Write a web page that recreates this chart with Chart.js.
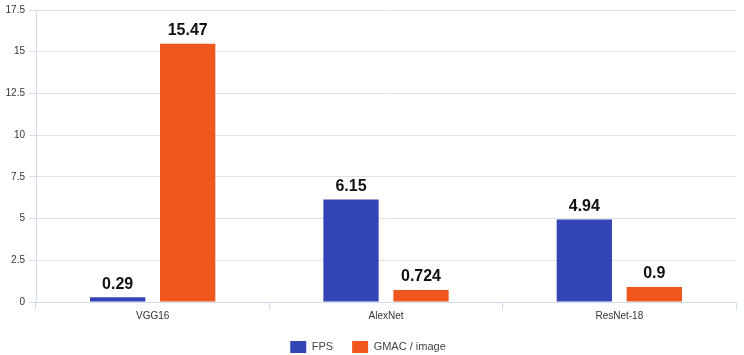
<!DOCTYPE html>
<html>
<head>
<meta charset="utf-8">
<script src="https://cdn.jsdelivr.net/npm/chart.js@4/dist/chart.umd.min.js"></script>
<style>
  html, body { margin: 0; padding: 0; background: #fff; }
  #wrap { width: 744px; height: 355px; }
</style>
</head>
<body>
<div id="wrap"><canvas id="grafico"></canvas></div>
<script>
'use strict';

const categorie = ['VGG16', 'AlexNet', 'ResNet-18'];
const fps = [0.29, 6.15, 4.94];
const gmac = [15.47, 0.724, 0.9];
const yTicks = [0, 2.5, 5, 7.5, 10, 12.5, 15, 17.5];

// etichette sopra le barre
const valoriPlugin = {
  id: 'valori',
  afterDatasetsDraw(chart) {
    const ctx = chart.ctx;
    ctx.save();
    ctx.font = 'bold 16px "Liberation Sans", Arial, sans-serif';
    ctx.fillStyle = '#111';
    ctx.textAlign = 'center';
    ctx.textBaseline = 'bottom';
    chart.data.datasets.forEach((ds, i) => {
      chart.getDatasetMeta(i).data.forEach((bar, j) => {
        ctx.fillText(String(ds.data[j]), bar.x, bar.y - 5);
      });
    });
    ctx.restore();
  }
};

new Chart(document.getElementById('grafico').getContext('2d'), {
  type: 'bar',
  data: {
    labels: categorie,
    datasets: [
      { label: 'FPS', data: fps, backgroundColor: '#3345b6' },
      { label: 'GMAC / image', data: gmac, backgroundColor: '#ee561d' }
    ]
  },
  options: {
    responsive: true,
    maintainAspectRatio: false,
    animation: false,
    categoryPercentage: 0.6,
    barPercentage: 0.79,
    layout: { padding: { top: 7, right: 8, left: 0, bottom: -8 } },
    plugins: {
      legend: {
        position: 'bottom',
        labels: {
          color: '#444',
          boxWidth: 16, boxHeight: 12,
          padding: 19,
          font: { family: '"Liberation Sans", Arial, sans-serif', size: 11 }
        }
      },
      tooltip: { enabled: false }
    },
    scales: {
      x: {
        afterFit: s => { s.height = 20; },
        grid: { drawOnChartArea: false, drawTicks: true, tickLength: 8, color: '#cfdcec' },
        border: { color: '#cfdcec' },
        ticks: { color: '#333', padding: 0, font: { family: '"Liberation Sans", Arial, sans-serif', size: 10 } }
      },
      y: {
        min: 0, max: 17.5,
        afterFit: s => { s.width = 36; },
        afterBuildTicks: s => { s.ticks = yTicks.map(v => ({ value: v })); },
        grid: { color: '#e2e2e2', tickColor: '#cfdcec', tickLength: 7 },
        border: { color: '#cfdcec' },
        ticks: { color: '#333', padding: 4, font: { family: '"Liberation Sans", Arial, sans-serif', size: 10 } }
      }
    }
  },
  plugins: [valoriPlugin]
});
</script>
</body>
</html>
